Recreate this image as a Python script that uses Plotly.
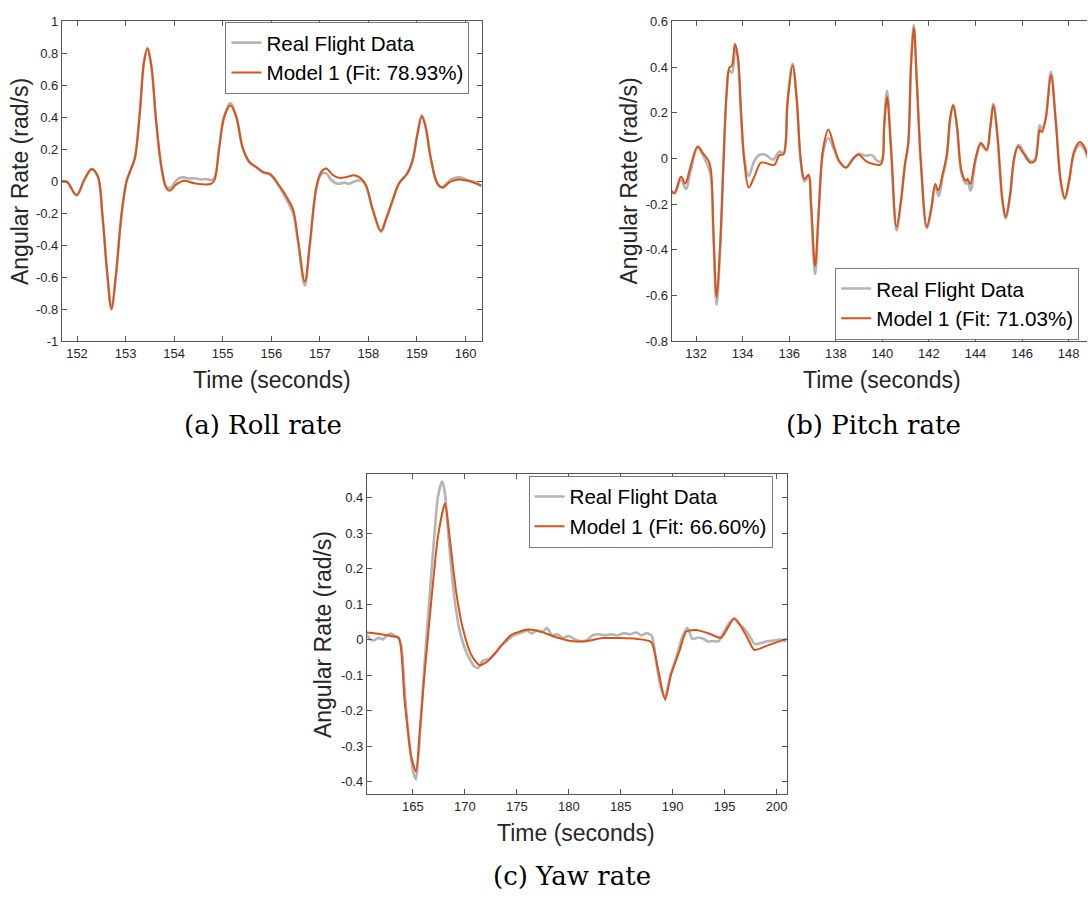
import plotly.graph_objects as go

# ---------------- Roll rate ----------------
roll_model_t = [151.69, 151.80, 151.99, 152.15, 152.30, 152.43, 152.52, 152.62, 152.71, 152.80,
                152.92, 153.02, 153.09, 153.19, 153.29, 153.38, 153.45, 153.53, 153.63, 153.74,
                153.84, 153.91, 154.04, 154.21, 154.42, 154.76, 154.83, 154.93, 155.03, 155.16,
                155.28, 155.41, 155.55, 155.69, 155.83, 155.98, 156.18, 156.35, 156.45, 156.55,
                156.69, 156.79, 156.93, 157.03, 157.13, 157.27, 157.40, 157.57, 157.71, 157.85,
                157.95, 158.09, 158.26, 158.36, 158.50, 158.63, 158.80, 158.91, 159.01, 159.10,
                159.18, 159.28, 159.42, 159.52, 159.69, 159.86, 160.07, 160.33]
roll_model_v = [0.0, -0.005, -0.085, 0.01, 0.078, 0.03, -0.197, -0.566, -0.797, -0.59,
                -0.197, 0.0, 0.06, 0.145, 0.418, 0.746, 0.83, 0.725, 0.377, 0.09,
                -0.043, -0.059, -0.02, 0.004, -0.012, -0.016, 0.008, 0.213, 0.40, 0.475,
                0.40, 0.213, 0.121, 0.09, 0.059, 0.045, -0.033, -0.115, -0.176, -0.361,
                -0.627, -0.402, -0.033, 0.059, 0.080, 0.039, 0.022, 0.029, 0.039, 0.018,
                -0.023, -0.176, -0.309, -0.238, -0.115, -0.012, 0.049, 0.131, 0.295, 0.405,
                0.336, 0.152, -0.012, -0.039, -0.002, 0.012, 0.002, -0.027]

roll_real_t = [151.69, 151.80, 151.99, 152.15, 152.30, 152.43, 152.52, 152.62, 152.71, 152.80,
               152.92, 153.02, 153.09, 153.19, 153.29, 153.38, 153.45, 153.53, 153.63, 153.74,
               153.84, 153.92, 154.02, 154.10, 154.20, 154.30, 154.42, 154.55, 154.65, 154.76,
               154.83, 154.93, 155.03, 155.16, 155.28, 155.41, 155.55, 155.69, 155.83, 155.98,
               156.18, 156.35, 156.45, 156.55, 156.69, 156.79, 156.93, 157.03, 157.13, 157.22,
               157.32, 157.40, 157.50, 157.60, 157.71, 157.85, 157.95, 158.09, 158.26, 158.36,
               158.50, 158.63, 158.80, 158.91, 159.01, 159.10, 159.18, 159.28, 159.42, 159.52,
               159.62, 159.72, 159.86, 159.95, 160.07, 160.20, 160.33]
roll_real_v = [0.0, -0.005, -0.088, 0.008, 0.075, 0.03, -0.20, -0.57, -0.80, -0.59,
               -0.20, 0.0, 0.06, 0.145, 0.42, 0.75, 0.835, 0.72, 0.37, 0.08,
               -0.035, -0.04, -0.005, 0.02, 0.025, 0.018, 0.02, 0.012, 0.015, 0.008,
               0.02, 0.22, 0.41, 0.49, 0.41, 0.21, 0.12, 0.09, 0.055, 0.04,
               -0.04, -0.135, -0.20, -0.38, -0.65, -0.41, -0.04, 0.045, 0.05, 0.015,
               -0.01, -0.015, -0.008, -0.015, 0.0, 0.005, -0.03, -0.18, -0.315, -0.24,
               -0.12, -0.015, 0.05, 0.135, 0.30, 0.415, 0.34, 0.15, -0.015, -0.035,
               -0.01, 0.015, 0.025, 0.02, 0.005, -0.005, -0.03]

# ---------------- Pitch rate ----------------
pitch_model_t = [130.92, 131.07, 131.35, 131.54, 131.71, 132.07, 132.29, 132.54, 132.64, 132.74,
                 132.88, 133.03, 133.17, 133.31, 133.43, 133.53, 133.67, 133.79, 133.93, 134.07,
                 134.26, 134.50, 134.79, 135.15, 135.36, 135.58, 135.75, 135.93, 136.15, 136.32,
                 136.50, 136.65, 136.83, 136.93, 137.11, 137.26, 137.46, 137.68, 137.94, 138.15,
                 138.44, 138.73, 138.97, 139.29, 139.65, 139.94, 140.08, 140.20, 140.37, 140.61,
                 140.80, 140.97, 141.11, 141.23, 141.35, 141.48, 141.66, 141.91, 142.11, 142.27,
                 142.40, 142.59, 142.77, 142.91, 143.04, 143.20, 143.40, 143.59, 143.66, 143.77,
                 144.01, 144.23, 144.48, 144.63, 144.77, 144.94, 145.16, 145.30, 145.49, 145.66,
                 145.83, 146.09, 146.35, 146.55, 146.66, 146.76, 146.85, 147.02, 147.24, 147.45,
                 147.66, 147.84, 148.02, 148.24, 148.48, 148.67, 148.80]
pitch_model_v = [-0.140, -0.152, -0.080, -0.109, -0.054, 0.053, 0.024, -0.011, -0.054, -0.312,
                 -0.606, -0.384, -0.025, 0.290, 0.398, 0.405, 0.501, 0.448, 0.204, -0.011,
                 -0.126, -0.080, -0.018, -0.025, -0.028, 0.015, 0.018, 0.247, 0.407, 0.261,
                 -0.011, -0.090, -0.071, -0.183, -0.470, -0.240, 0.047, 0.126, 0.047, -0.011,
                 -0.040, -0.004, 0.018, -0.011, -0.025, -0.025, 0.147, 0.269, 0.046, -0.298,
                 -0.183, -0.025, 0.068, 0.405, 0.570, 0.333, -0.025, -0.298, -0.212, -0.111,
                 -0.140, -0.068, 0.018, 0.176, 0.233, 0.147, -0.054, -0.097, -0.090, -0.111,
                 0.003, 0.068, 0.039, 0.132, 0.233, 0.104, -0.183, -0.255, -0.155, 0.003,
                 0.053, 0.018, -0.018, -0.011, 0.046, 0.125, 0.115, 0.175, 0.365, 0.161,
                 -0.097, -0.173, -0.097, 0.032, 0.072, 0.053, 0.018]

pitch_real_t = [130.92, 131.07, 131.35, 131.57, 131.75, 132.07, 132.29, 132.45, 132.62, 132.74,
                132.88, 133.03, 133.17, 133.31, 133.43, 133.55, 133.68, 133.80, 133.93, 134.07,
                134.26, 134.50, 134.75, 135.00, 135.30, 135.58, 135.75, 135.93, 136.14, 136.32,
                136.50, 136.65, 136.83, 136.93, 137.11, 137.26, 137.46, 137.68, 137.94, 138.15,
                138.44, 138.73, 138.97, 139.30, 139.55, 139.80, 139.96, 140.08, 140.20, 140.37,
                140.61, 140.80, 140.97, 141.11, 141.23, 141.35, 141.48, 141.66, 141.91, 142.11,
                142.27, 142.42, 142.59, 142.77, 142.91, 143.04, 143.20, 143.40, 143.59, 143.66,
                143.79, 144.01, 144.23, 144.48, 144.63, 144.77, 144.94, 145.16, 145.30, 145.49,
                145.66, 145.85, 146.09, 146.35, 146.55, 146.66, 146.76, 146.85, 147.02, 147.24,
                147.45, 147.66, 147.84, 148.02, 148.24, 148.48, 148.67, 148.80]
pitch_real_v = [-0.140, -0.150, -0.095, -0.133, -0.060, 0.048, 0.015, -0.020, -0.070, -0.330,
                -0.640, -0.400, -0.040, 0.280, 0.385, 0.375, 0.495, 0.430, 0.190, 0.0,
                -0.076, -0.010, 0.018, 0.015, -0.005, 0.030, 0.022, 0.260, 0.415, 0.260,
                -0.020, -0.100, -0.080, -0.200, -0.506, -0.250, 0.030, 0.090, 0.035, -0.015,
                -0.038, 0.0, 0.020, 0.012, 0.015, -0.012, -0.010, 0.150, 0.297, 0.050,
                -0.315, -0.190, -0.030, 0.060, 0.410, 0.585, 0.340, -0.030, -0.305, -0.220,
                -0.120, -0.165, -0.080, 0.010, 0.170, 0.235, 0.140, -0.065, -0.110, -0.100,
                -0.140, -0.005, 0.060, 0.035, 0.130, 0.238, 0.100, -0.190, -0.262, -0.160,
                -0.005, 0.060, 0.025, -0.010, -0.005, 0.060, 0.147, 0.130, 0.180, 0.380,
                0.165, -0.100, -0.178, -0.100, 0.025, 0.060, 0.040, 0.003]

# ---------------- Yaw rate ----------------
yaw_model_t = [160.58, 161.96, 163.00, 163.65, 164.20, 164.84, 165.30, 165.65, 166.12, 166.76,
               167.41, 168.10, 168.53, 169.17, 169.81, 170.61, 171.41, 172.21, 173.18, 174.46,
               176.06, 177.34, 178.62, 180.22, 181.67, 183.27, 186.47, 187.92, 188.56, 189.27,
               189.84, 190.65, 191.29, 192.25, 193.50, 194.65, 195.93, 197.05, 197.85, 199.29,
               200.96]
yaw_model_v = [0.020, 0.015, 0.009, 0.004, -0.172, -0.329, -0.372, -0.264, -0.097, 0.105,
               0.290, 0.384, 0.290, 0.133, 0.031, -0.043, -0.072, -0.061, -0.029, 0.013,
               0.028, 0.022, 0.008, -0.004, -0.005, 0.004, 0.002, -0.007, -0.079, -0.170,
               -0.098, -0.033, 0.022, 0.027, 0.017, 0.005, 0.059, 0.013, -0.029, -0.015,
               0.002]

yaw_real_t = [160.58, 160.90, 161.30, 161.70, 162.10, 162.50, 162.90, 163.30, 163.60, 163.90,
              164.30, 164.80, 165.05, 165.30, 165.60, 166.00, 166.50, 167.00, 167.40, 167.80,
              168.05, 168.40, 168.90, 169.50, 170.20, 170.90, 171.30, 171.70, 172.30, 172.90,
              173.40, 174.00, 174.60, 175.30, 176.00, 176.40, 176.90, 177.50, 177.90, 178.40,
              178.90, 179.40, 180.00, 180.60, 181.20, 181.80, 182.30, 182.90, 183.50, 184.10,
              184.70, 185.30, 185.90, 186.50, 187.00, 187.50, 188.00, 188.40, 188.80, 189.25,
              189.80, 190.40, 190.90, 191.40, 191.90, 192.40, 192.90, 193.40, 193.90, 194.40,
              194.90, 195.40, 195.90, 196.40, 196.90, 197.40, 197.90, 198.50, 199.10, 199.70,
              200.30, 200.96]
yaw_real_v = [0.013, 0.0, -0.002, 0.005, 0.0, 0.012, 0.017, 0.010, 0.005, -0.020,
              -0.180, -0.330, -0.375, -0.394, -0.300, -0.120, 0.080, 0.270, 0.400, 0.445,
              0.420, 0.300, 0.140, 0.025, -0.040, -0.075, -0.080, -0.060, -0.055, -0.040,
              -0.020, -0.005, 0.010, 0.018, 0.025, 0.017, 0.025, 0.022, 0.033, 0.012,
              0.015, 0.005, 0.010, 0.0, -0.005, 0.0, 0.012, 0.015, 0.012, 0.015,
              0.012, 0.018, 0.015, 0.020, 0.012, 0.018, 0.010, -0.060, -0.130, -0.163,
              -0.100, -0.045, 0.005, 0.033, 0.002, 0.005, 0.003, -0.006, -0.004, -0.005,
              0.020, 0.045, 0.059, 0.045, 0.030, 0.010, -0.013, -0.010, -0.005, -0.003,
              0.0, -0.005]

# ---------------- Labels ----------------
series_names = ["Real Flight Data"]
fit_labels = ["Model 1 (Fit: 78.93%)", "Model 1 (Fit: 71.03%)", "Model 1 (Fit: 66.60%)"]
captions = ["(a) Roll rate", "(b) Pitch rate", "(c) Yaw rate"]

roll_xticks = [152, 153, 154, 155, 156, 157, 158, 159, 160]
roll_yticks = [-1, -0.8, -0.6, -0.4, -0.2, 0, 0.2, 0.4, 0.6, 0.8, 1]
roll_ytext = ["-1", "-0.8", "-0.6", "-0.4", "-0.2", "0", "0.2", "0.4", "0.6", "0.8", "1"]
pitch_xticks = [132, 134, 136, 138, 140, 142, 144, 146, 148]
pitch_yticks = [-0.8, -0.6, -0.4, -0.2, 0, 0.2, 0.4, 0.6]
pitch_ytext = ["-0.8", "-0.6", "-0.4", "-0.2", "0", "0.2", "0.4", "0.6"]
yaw_xticks = [165, 170, 175, 180, 185, 190, 195, 200]
yaw_yticks = [-0.4, -0.3, -0.2, -0.1, 0, 0.1, 0.2, 0.3, 0.4]
yaw_ytext = ["-0.4", "-0.3", "-0.2", "-0.1", "0", "0.1", "0.2", "0.3", "0.4"]

# ---------------- Styling ----------------
W, H = 1088, 899
GRAY = "#b4b4b4"
ORANGE = "#D95319"
AXIS = "#555555"
TICKFONT = dict(family="Liberation Sans, Arial, sans-serif", size=13, color="#262626")
TITLEFONT = dict(family="Liberation Sans, Arial, sans-serif", size=23, color="#262626")
LEGENDFONT = dict(family="Liberation Sans, Arial, sans-serif", size=20.6, color="#000000")
CAPFONT = dict(family="DejaVu Serif, serif", size=26, color="#000000")


def px_x(p):
    return p / W


def px_y(p):
    return 1 - p / H


fig = go.Figure()

panels = [
    (roll_real_t, roll_real_v, roll_model_t, roll_model_v, "x", "y", "legend", 1.0),
    (pitch_real_t, pitch_real_v, pitch_model_t, pitch_model_v, "x2", "y2", "legend2", 1.0),
    (yaw_real_t, yaw_real_v, yaw_model_t, yaw_model_v, "x3", "y3", "legend3", 0.6),
]
for i, (rt, rv, mt, mv, xa, ya, lg, sm) in enumerate(panels):
    fig.add_trace(go.Scatter(
        x=rt, y=rv, mode="lines", name=series_names[0],
        line=dict(color=GRAY, width=2.6, shape="spline", smoothing=sm),
        xaxis=xa, yaxis=ya, legend=lg))
    fig.add_trace(go.Scatter(
        x=mt, y=mv, mode="lines", name=fit_labels[i],
        line=dict(color=ORANGE, width=2, shape="spline", smoothing=sm),
        xaxis=xa, yaxis=ya, legend=lg))


def axis_style(**kw):
    d = dict(showline=True, linecolor=AXIS, linewidth=1, mirror="ticks",
             ticks="inside", ticklen=5, tickcolor=AXIS, tickwidth=1,
             showgrid=False, zeroline=False, tickfont=TICKFONT, tickmode="array")
    d.update(kw)
    return d


# panel geometry (pixels)
a_x0, a_x1, a_y0, a_y1 = 62, 482, 14.7, 340
b_x0, b_x1 = 672.3, 1088
c_x0, c_x1, c_y0, c_y1 = 367.3, 787.3, 475, 800.7

fig.update_layout(
    xaxis=axis_style(domain=[px_x(a_x0), px_x(a_x1)], range=[151.69, 160.33],
                     tickvals=roll_xticks, anchor="y"),
    yaxis=axis_style(domain=[px_y(a_y1), px_y(a_y0)], range=[-1, 1],
                     tickvals=roll_yticks, ticktext=roll_ytext, anchor="x"),
    xaxis2=axis_style(domain=[px_x(b_x0), px_x(b_x1)], range=[130.95, 148.79],
                      tickvals=pitch_xticks, anchor="y2"),
    yaxis2=axis_style(domain=[px_y(a_y1), px_y(a_y0)], range=[-0.8, 0.6],
                      tickvals=pitch_yticks, ticktext=pitch_ytext, anchor="x2", mirror=False),
    xaxis3=axis_style(domain=[px_x(c_x0), px_x(c_x1)], range=[160.58, 200.96],
                      tickvals=yaw_xticks, anchor="y3"),
    yaxis3=axis_style(domain=[px_y(c_y1), px_y(c_y0)], range=[-0.436, 0.466],
                      tickvals=yaw_yticks, ticktext=yaw_ytext, anchor="x3"),
)

legend_common = dict(font=LEGENDFONT, bgcolor="white", bordercolor="#7a7a7a", borderwidth=1,
                     xanchor="left", yanchor="top", xref="paper", yref="paper",
                     tracegroupgap=0)
fig.update_layout(
    showlegend=True,
    legend=dict(x=px_x(225.7), y=px_y(15), **legend_common),
    legend2=dict(x=px_x(836), y=px_y(265), **legend_common),
    legend3=dict(x=px_x(529), y=px_y(476.5), **legend_common),
)

annotations = []
# axis titles
for cx, cy in [(272, 379), (883, 379), (577, 840)]:
    annotations.append(dict(x=px_x(cx), y=px_y(cy), xref="paper", yref="paper",
                            text="Time (seconds)", showarrow=False, font=TITLEFONT,
                            xanchor="center", yanchor="middle"))
for cx, cy in [(20, 177), (630, 177), (324, 638)]:
    annotations.append(dict(x=px_x(cx), y=px_y(cy), xref="paper", yref="paper",
                            text="Angular Rate (rad/s)", showarrow=False, font=TITLEFONT,
                            textangle=-90, xanchor="center", yanchor="middle"))
# sub-figure captions
for text, cx, cy in zip(captions, [263, 874, 573], [425, 425, 884]):
    annotations.append(dict(x=px_x(cx), y=px_y(cy), xref="paper", yref="paper",
                            text=text, showarrow=False, font=CAPFONT,
                            xanchor="center", yanchor="middle"))

fig.update_layout(
    annotations=annotations,
    width=W, height=H,
    margin=dict(l=0, r=0, t=0, b=0),
    paper_bgcolor="white", plot_bgcolor="white",
)

fig.write_html("out.html")
